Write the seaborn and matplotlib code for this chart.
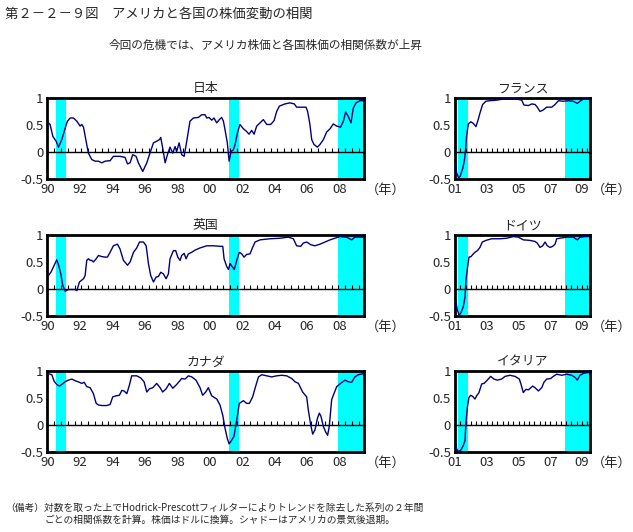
import numpy as np
import pandas as pd
import matplotlib
matplotlib.use("Agg")
import matplotlib.pyplot as plt
import seaborn as sns

# data (years since panel start, correlation)
jp_t = [0.06, 0.16, 0.33, 0.53, 0.68, 0.88, 1.09, 1.23, 1.40, 1.60, 1.81, 2.01, 2.11, 2.22, 2.38, 2.52,
        2.73, 2.94, 3.14, 3.35, 3.55, 3.86, 4.06, 4.47, 4.78, 4.93, 5.09, 5.25, 5.46, 5.60, 5.87, 6.12,
        6.28, 6.53, 6.73, 6.90, 6.98, 7.10, 7.25, 7.39, 7.55, 7.72, 7.86, 7.96, 8.11, 8.27, 8.42, 8.58,
        8.78, 8.99, 9.30, 9.50, 9.71, 9.81, 9.95, 10.12, 10.26, 10.43, 10.59, 10.73, 10.84, 10.94, 11.08,
        11.19, 11.31, 11.45, 11.56, 11.70, 11.86, 12.07, 12.27, 12.42, 12.58, 12.73, 12.89, 13.10, 13.30,
        13.51, 13.75, 13.96, 14.12, 14.29, 14.63, 14.94, 15.21, 15.35, 15.66, 15.93, 16.03, 16.17, 16.28,
        16.42, 16.63, 16.79, 17.00, 17.20, 17.41, 17.61, 17.82, 18.06, 18.23, 18.37, 18.53, 18.70, 18.84,
        19.01, 19.25, 19.46]
jp_v = [0.54, 0.51, 0.29, 0.20, 0.09, 0.23, 0.44, 0.57, 0.63, 0.63, 0.57, 0.48, 0.51, 0.46, 0.20, -0.02,
        -0.14, -0.17, -0.17, -0.20, -0.17, -0.16, -0.08, -0.08, -0.10, -0.22, -0.20, -0.05, -0.08, -0.20,
        -0.36, -0.20, -0.05, 0.17, 0.20, 0.23, 0.27, 0.07, -0.20, -0.05, 0.09, -0.02, 0.10, 0.01, 0.17,
        -0.05, -0.08, 0.20, 0.57, 0.63, 0.64, 0.69, 0.69, 0.63, 0.64, 0.59, 0.63, 0.54, 0.60, 0.64, 0.57,
        0.41, 0.17, -0.17, 0.01, 0.04, 0.14, 0.35, 0.51, 0.43, 0.38, 0.33, 0.40, 0.33, 0.48, 0.54, 0.60,
        0.51, 0.51, 0.58, 0.75, 0.85, 0.89, 0.91, 0.89, 0.83, 0.83, 0.83, 0.75, 0.51, 0.23, 0.14, 0.09,
        0.14, 0.23, 0.37, 0.43, 0.52, 0.48, 0.46, 0.57, 0.74, 0.66, 0.54, 0.81, 0.91, 0.95, 0.95]

uk_t = [0.06, 0.21, 0.37, 0.57, 0.68, 0.82, 0.94, 1.09, 1.29, 1.50, 1.70, 1.81, 1.97, 2.22, 2.32, 2.42,
        2.52, 2.63, 2.73, 2.83, 3.00, 3.14, 3.35, 3.55, 3.69, 3.86, 4.06, 4.31, 4.47, 4.68, 4.93, 5.09,
        5.30, 5.50, 5.67, 5.91, 6.08, 6.22, 6.36, 6.53, 6.69, 6.83, 6.98, 7.14, 7.31, 7.45, 7.55, 7.76,
        7.90, 8.03, 8.17, 8.27, 8.42, 8.54, 8.68, 8.89, 9.09, 9.40, 9.81, 10.22, 10.63, 10.80, 10.88,
        11.04, 11.15, 11.25, 11.39, 11.51, 11.66, 11.82, 11.97, 12.11, 12.27, 12.48, 12.64, 12.79, 13.10,
        13.71, 14.33, 14.84, 15.15, 15.35, 15.60, 15.76, 15.97, 16.22, 16.48, 16.79, 17.10, 17.41, 17.71,
        18.02, 18.43, 18.74, 18.94, 19.46]
uk_v = [0.25, 0.31, 0.41, 0.54, 0.45, 0.28, 0.07, -0.04, -0.01, -0.01, -0.01, -0.03, 0.13, 0.19, 0.25,
        0.53, 0.56, 0.53, 0.53, 0.50, 0.56, 0.62, 0.60, 0.59, 0.59, 0.68, 0.80, 0.83, 0.74, 0.53, 0.44,
        0.50, 0.68, 0.76, 0.87, 0.87, 0.80, 0.47, 0.25, 0.13, 0.22, 0.23, 0.31, 0.28, 0.19, 0.28, 0.56,
        0.71, 0.71, 0.59, 0.53, 0.62, 0.66, 0.56, 0.65, 0.68, 0.72, 0.76, 0.80, 0.80, 0.79, 0.79, 0.56,
        0.42, 0.36, 0.47, 0.41, 0.36, 0.53, 0.68, 0.65, 0.59, 0.64, 0.65, 0.77, 0.87, 0.91, 0.93, 0.94,
        0.96, 0.93, 0.80, 0.79, 0.85, 0.87, 0.82, 0.80, 0.83, 0.87, 0.91, 0.94, 0.97, 0.96, 0.91, 0.96,
        0.96]

ca_t = [0.06, 0.27, 0.41, 0.57, 0.74, 0.88, 1.09, 1.29, 1.50, 1.70, 1.97, 2.11, 2.26, 2.42, 2.63, 2.83,
        3.00, 3.14, 3.35, 3.65, 3.86, 4.02, 4.23, 4.43, 4.58, 4.72, 4.89, 5.05, 5.19, 5.50, 5.75, 5.95,
        6.12, 6.28, 6.49, 6.73, 6.94, 7.10, 7.31, 7.51, 7.72, 7.96, 8.27, 8.48, 8.68, 8.89, 9.15, 9.40,
        9.56, 9.75, 9.91, 10.12, 10.43, 10.63, 10.80, 10.94, 11.08, 11.19, 11.31, 11.49, 11.66, 11.82,
        12.07, 12.27, 12.44, 12.64, 12.79, 13.00, 13.20, 13.51, 13.81, 14.12, 14.43, 14.74, 15.05, 15.25,
        15.46, 15.72, 15.97, 16.07, 16.22, 16.34, 16.48, 16.63, 16.75, 16.85, 17.00, 17.14, 17.26, 17.36,
        17.51, 17.65, 17.82, 18.06, 18.33, 18.53, 18.74, 18.94, 19.15, 19.46]
ca_v = [0.95, 0.93, 0.81, 0.75, 0.72, 0.75, 0.80, 0.83, 0.85, 0.82, 0.79, 0.77, 0.79, 0.71, 0.69, 0.58,
        0.40, 0.37, 0.36, 0.36, 0.38, 0.52, 0.54, 0.55, 0.64, 0.63, 0.58, 0.74, 0.91, 0.91, 0.87, 0.80,
        0.61, 0.67, 0.69, 0.77, 0.69, 0.61, 0.67, 0.77, 0.68, 0.75, 0.86, 0.85, 0.91, 0.89, 0.83, 0.69,
        0.55, 0.61, 0.69, 0.54, 0.48, 0.37, 0.18, -0.06, -0.25, -0.35, -0.30, -0.21, 0.09, 0.40, 0.45,
        0.40, 0.40, 0.52, 0.68, 0.89, 0.93, 0.91, 0.89, 0.91, 0.92, 0.91, 0.86, 0.80, 0.77, 0.61, 0.52,
        0.28, 0.00, -0.17, -0.09, 0.12, 0.22, 0.16, -0.03, -0.13, -0.19, -0.03, 0.47, 0.58, 0.71, 0.77,
        0.83, 0.80, 0.79, 0.89, 0.93, 0.95]

fr_t = [0.04, 0.10, 0.21, 0.31, 0.48, 0.59, 0.67, 0.73, 0.84, 0.99, 1.15, 1.32, 1.47, 1.57, 1.74, 1.95,
        2.20, 2.62, 3.04, 3.46, 3.88, 4.20, 4.34, 4.62, 4.83, 5.04, 5.18, 5.35, 5.56, 5.77, 6.09, 6.30,
        6.51, 6.82, 7.14, 7.45, 7.70, 7.87, 8.08, 8.39]
fr_v = [-0.21, -0.38, -0.47, -0.46, -0.31, -0.16, 0.06, 0.30, 0.52, 0.56, 0.53, 0.47, 0.61, 0.72, 0.88,
        0.94, 0.95, 0.96, 0.98, 0.98, 0.98, 0.96, 0.87, 0.86, 0.89, 0.88, 0.83, 0.75, 0.78, 0.83, 0.83,
        0.88, 0.95, 0.94, 0.95, 0.94, 0.90, 0.94, 0.98, 0.98]

de_t = [0.04, 0.15, 0.25, 0.36, 0.52, 0.63, 0.69, 0.78, 0.88, 1.01, 1.15, 1.26, 1.41, 1.57, 1.72, 1.95,
        2.31, 2.83, 3.25, 3.67, 3.99, 4.30, 4.72, 5.04, 5.18, 5.35, 5.52, 5.67, 5.81, 5.98, 6.15, 6.30,
        6.40, 6.61, 7.03, 7.45, 7.70, 7.87, 8.18, 8.39]
de_v = [-0.21, -0.39, -0.48, -0.45, -0.33, -0.15, 0.16, 0.38, 0.59, 0.60, 0.65, 0.68, 0.71, 0.77, 0.87,
        0.90, 0.93, 0.93, 0.94, 0.97, 0.96, 0.91, 0.90, 0.88, 0.85, 0.77, 0.80, 0.87, 0.80, 0.77, 0.79,
        0.83, 0.93, 0.94, 0.96, 0.96, 0.91, 0.96, 0.97, 0.97]

it_t = [0.04, 0.10, 0.21, 0.36, 0.52, 0.63, 0.69, 0.78, 0.88, 0.99, 1.11, 1.26, 1.36, 1.51, 1.68, 1.83,
        2.00, 2.25, 2.45, 2.66, 2.94, 3.15, 3.46, 3.78, 4.05, 4.15, 4.30, 4.47, 4.62, 4.89, 5.04, 5.25,
        5.46, 5.60, 5.77, 6.02, 6.19, 6.40, 6.72, 7.03, 7.35, 7.56, 7.70, 7.87, 8.12, 8.39]
it_v = [-0.32, -0.44, -0.49, -0.47, -0.38, -0.29, 0.05, 0.33, 0.51, 0.55, 0.53, 0.48, 0.54, 0.60, 0.76,
        0.77, 0.82, 0.90, 0.85, 0.83, 0.85, 0.90, 0.92, 0.90, 0.85, 0.76, 0.60, 0.66, 0.65, 0.72, 0.69,
        0.63, 0.69, 0.79, 0.85, 0.86, 0.90, 0.94, 0.92, 0.94, 0.92, 0.88, 0.83, 0.92, 0.96, 0.97]

# US recessions (start, end) in decimal years
recessions = [(1990.5, 1991.17), (2001.17, 2001.83), (2007.92, 2009.5)]

long_years = [1990, 1992, 1994, 1996, 1998, 2000, 2002, 2004, 2006, 2008]
short_years = [2001, 2003, 2005, 2007, 2009]

sns.set_style("white")
plt.rcParams['font.family'] = ['Noto Sans CJK JP', 'DejaVu Sans']

fig = plt.figure(figsize=(6.33, 5.32), dpi=100)

fig.text(0.008, 0.975, "第２－２－９図　アメリカと各国の株価変動の相関", fontsize=9.6, va="center", ha="left")
fig.text(0.42, 0.915, "今回の危機では、アメリカ株価と各国株価の相関係数が上昇", fontsize=8.4, va="center", ha="center")
fig.text(0.008, 0.045, "（備考）対数を取った上でHodrick-Prescottフィルターによりトレンドを除去した系列の２年間",
         fontsize=7.0, va="center", ha="left")
fig.text(0.071, 0.022, "ごとの相関係数を計算。株価はドルに換算。シャドーはアメリカの景気後退期。",
         fontsize=7.0, va="center", ha="left")

rows = [0.6635, 0.406, 0.1504]
left_series = [("日本", 1990, jp_t, jp_v), ("英国", 1990, uk_t, uk_v), ("カナダ", 1990, ca_t, ca_v)]
right_series = [("フランス", 2001, fr_t, fr_v), ("ドイツ", 2001, de_t, de_v), ("イタリア", 2001, it_t, it_v)]


def draw_panel(rect, name, base, t, v, years, step):
    ax = fig.add_axes(rect)
    df = pd.DataFrame({"year": np.array(t) + base, "corr": v})
    x0 = years[0]
    for a, b in recessions:
        ax.axvspan(max(a, x0), b, color="#00FFFF", lw=0, zorder=0)
    sns.lineplot(data=df, x="year", y="corr", ax=ax, color="#000080", lw=1.0, zorder=3)
    ax.set_xlim(x0, 2009.5)
    ax.set_ylim(-0.5, 1)
    ax.set_yticks([-0.5, 0, 0.5, 1])
    ax.set_yticklabels(["-0.5", "0", "0.5", "1"])
    ax.set_xticks(years)
    ax.set_xticklabels(["%02d" % (y % 100) for y in years])
    ax.tick_params(axis="both", length=0, labelsize=9.5, pad=3)
    ax.set_xlabel("")
    ax.set_ylabel("")
    for s in ax.spines.values():
        s.set_color("black")
        s.set_linewidth(2)
    # zero line with small tick marks pointing up
    sec = ax.secondary_xaxis(1 / 3)
    sec.spines["bottom"].set_linewidth(1)
    sec.spines["bottom"].set_color("black")
    sec.set_xticks(np.arange(x0, 2009.5, step))
    sec.tick_params(direction="in", length=3, width=0.8, labelbottom=False, color="black")
    ax.set_title(name, fontsize=9.3, pad=4)
    return ax


for (name, base, t, v), b in zip(left_series, rows):
    ax = draw_panel([0.075, b, 0.5, 0.1523], name, base, t, v, long_years, 5 / 12)
    ax.text(1.07, -0.14, "（年）", transform=ax.transAxes, fontsize=9.5, ha="center", va="center")

for (name, base, t, v), b in zip(right_series, rows):
    ax = draw_panel([0.7188, b, 0.2133, 0.1523], name, base, t, v, short_years, 1 / 3)
    ax.text(1.16, -0.14, "（年）", transform=ax.transAxes, fontsize=9.5, ha="center", va="center")

plt.savefig("out.png", dpi=100)
